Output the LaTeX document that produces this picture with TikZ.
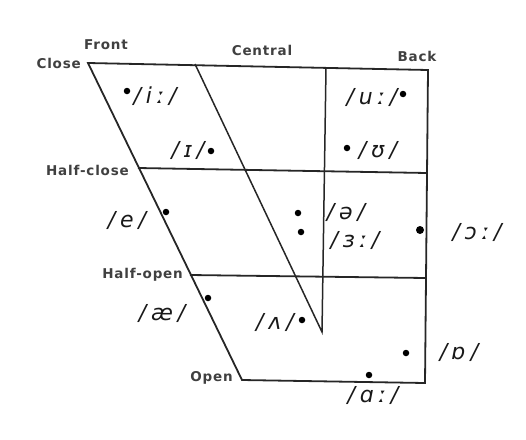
\documentclass[tikz,border=0pt]{standalone}
\usepackage{fontspec}
\setmainfont{DejaVu Sans}
\newfontfamily\axisfont[LetterSpace=6]{DejaVu Sans Bold}
\newfontfamily\ipafont[LetterSpace=22]{DejaVu Sans Oblique}
\begin{document}
\begin{tikzpicture}[x=1pt,y=-1pt,
  chart/.style={line width=1.8pt, draw=black!85},
  axislabel/.style={font=\axisfont\fontsize{13.5}{15}\selectfont, text=black!75, inner sep=0pt},
  vowel/.style={font=\ipafont\fontsize{22}{24}\selectfont, text=black!90, inner sep=0pt},
  vdot/.style={circle, fill=black, inner sep=0pt, minimum size=6.5pt}]
\useasboundingbox (0,0) rectangle (526,439);
% corners
\coordinate (CF) at (88,63);
\coordinate (CB) at (428,70);
\coordinate (OF) at (242,380);
\coordinate (OB) at (425,383);
\coordinate (HCF) at (138,168);
\coordinate (HCB) at (427,173);
\coordinate (HOF) at (190,275);
\coordinate (HOB) at (426,278);
\coordinate (CT) at (195,64);
\coordinate (VT) at (326,68);
\coordinate (VB) at (322,332);
% chart lines
\draw[chart] (CF) -- (CB) -- (OB) -- (OF) -- cycle;
\draw[chart] (HCF) -- (HCB);
\draw[chart] (HOF) -- (HOB);
\draw[chart, line width=1.5pt] (CT) -- (VB) -- (VT);
% axis labels
\node[axislabel, anchor=east] (close) at (81,63) {Close};
\node[axislabel] (front) at (106,45) {Front};
\node[axislabel] (central) at (262,50) {Central};
\node[axislabel] (back) at (417,56) {Back};
\node[axislabel, anchor=east] (halfclose) at (129,170) {Half-close};
\node[axislabel, anchor=east] (halfopen) at (183,275) {Half-open};
\node[axislabel, anchor=east] (open) at (233,378) {Open};
% vowel dots
\node[vdot] (d-i) at (127,91) {};
\node[vdot] (d-I) at (211,151) {};
\node[vdot] (d-u) at (403,94) {};
\node[vdot] (d-U) at (347,148) {};
\node[vdot] (d-e) at (166,212) {};
\node[vdot] (d-schwa) at (298,213) {};
\node[vdot] (d-er) at (301,232) {};
\node[vdot, minimum size=8pt] (d-or) at (420,230) {};
\node[vdot] (d-ae) at (208,298) {};
\node[vdot] (d-V) at (302,320) {};
\node[vdot] (d-O) at (406,353) {};
\node[vdot] (d-ar) at (369,375) {};
% vowel labels
\node[vowel] (l-i) at (155,96) {/iː/};
\node[vowel] (l-I) at (188,150) {/ɪ/};
\node[vowel] (l-u) at (372,97) {/uː/};
\node[vowel] (l-U) at (378,150) {/ʊ/};
\node[vowel] (l-e) at (127,220) {/e/};
\node[vowel] (l-schwa) at (346,212) {/ə/};
\node[vowel] (l-er) at (355,240) {/ɜː/};
\node[vowel] (l-or) at (477,232) {/ɔː/};
\node[vowel] (l-ae) at (162,313) {/æ/};
\node[vowel] (l-V) at (275,322) {/ʌ/};
\node[vowel] (l-O) at (459,352) {/ɒ/};
\node[vowel] (l-ar) at (373,395) {/ɑː/};
\end{tikzpicture}
\end{document}
